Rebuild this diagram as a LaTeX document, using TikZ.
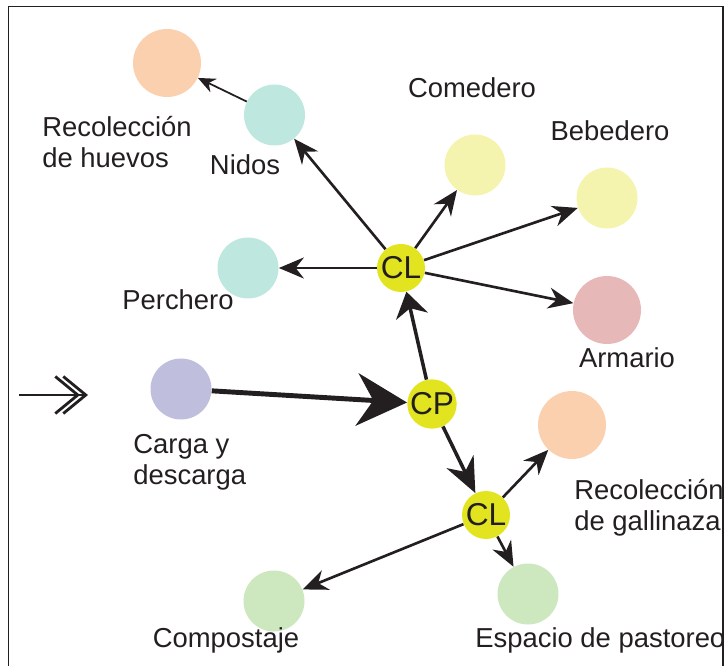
\documentclass[tikz,border=0pt]{standalone}
\usepackage{fontspec}
\setmainfont{Liberation Sans}
\usetikzlibrary{arrows.meta}

\definecolor{peach}{RGB}{251,208,174}
\definecolor{aqua}{RGB}{190,231,224}
\definecolor{lemon}{RGB}{244,244,174}
\definecolor{rose}{RGB}{230,184,184}
\definecolor{lilac}{RGB}{192,190,221}
\definecolor{mint}{RGB}{205,231,190}
\definecolor{hubyellow}{RGB}{226,228,32}
\definecolor{ink}{RGB}{35,31,32}

\begin{document}
\begin{tikzpicture}[
    spot/.style={circle, fill=#1, minimum size=1.22cm, inner sep=0pt},
    bigspot/.style={circle, fill=#1, minimum size=1.36cm, inner sep=0pt},
    hub/.style={circle, fill=hubyellow, minimum size=0.96cm, inner sep=0pt, text=ink, font=\fontsize{18}{18}\selectfont},
    label/.style={font=\fontsize{15.6}{17.6}\selectfont, align=left, text=ink, inner sep=0pt},
    arrow/.style={-{Stealth[length=5mm, width=4.2mm]}, line width=1.5pt, draw=ink},
    thin/.style={-{Stealth[length=3.5mm, width=3mm]}, line width=1pt, draw=ink},
    heavy/.style={-{Stealth[length=7mm, width=6mm]}, line width=2pt, draw=ink},
    main/.style={-{Stealth[length=1cm, width=1.05cm]}, line width=2.8pt, draw=ink},
    chevron/.style={-{Straight Barb[length=4.5mm, width=7.4mm]}, line width=1.6pt, draw=ink},
]
\useasboundingbox (0,0) rectangle (14.5,-13.32);

% Frame
\draw[line width=1.1pt, draw=ink] (0.17,-13.32) -- (0.17,-0.13) -- (14.46,-0.13) -- (14.46,-13.32);

% Upper cluster
\node[bigspot=peach] (huevos) at (3.34,-1.26) {};
\node[spot=aqua] (nidos) at (5.49,-2.30) {};
\node[spot=aqua] (perchero) at (4.96,-5.36) {};
\node[spot=lemon] (comedero) at (9.50,-3.30) {};
\node[spot=lemon] (bebedero) at (12.14,-3.96) {};
\node[bigspot=rose] (armario) at (12.14,-6.20) {};
\node[hub] (clup) at (8.02,-5.36) {CL};

% Middle
\node[spot=lilac] (carga) at (3.62,-7.78) {};
\node[hub] (cp) at (8.64,-8.08) {CP};

% Lower cluster
\node[hub] (cldown) at (9.72,-10.30) {CL};
\node[bigspot=peach] (gallinaza) at (11.44,-8.50) {};
\node[spot=mint] (compost) at (5.48,-12.02) {};
\node[spot=mint] (pastoreo) at (10.56,-11.88) {};

% Labels
\node[label, anchor=west] at (0.84,-2.84) {Recolección\\de huevos};
\node[label] at (4.90,-3.30) {Nidos};
\node[label] at (9.44,-1.76) {Comedero};
\node[label] at (12.20,-2.62) {Bebedero};
\node[label] at (3.56,-6.00) {Perchero};
\node[label] at (12.54,-7.16) {Armario};
\node[label, anchor=west] at (2.66,-9.24) {Carga y\\descarga};
\node[label, anchor=west] at (11.48,-10.16) {Recolección\\de gallinaza};
\node[label] at (4.52,-12.80) {Compostaje};
\node[label, anchor=west] at (9.50,-12.80) {Espacio de pastoreo};

% Entry
\coordinate (in) at (0.38,-7.90);
\coordinate (inend) at (1.76,-7.90);
\draw[chevron] (in) -- (inend);
\draw[chevron, shorten >=1.6mm] (in) -- (inend);

% Connections
\draw[thin] (nidos) -- (huevos);
\draw[arrow] (clup) -- (nidos);
\draw[arrow] (clup) -- (perchero);
\draw[arrow] (clup) -- (comedero);
\draw[arrow] (clup) -- (bebedero);
\draw[arrow] (clup) -- (armario);
\draw[main] (carga) -- (cp);
\draw[heavy, -{Stealth[length=5mm, width=6.5mm]}] (cp) -- (clup);
\draw[heavy] (cp) -- (cldown);
\draw[arrow] (cldown) -- (gallinaza);
\draw[arrow] (cldown) -- (pastoreo);
\draw[arrow] (cldown) -- (compost);

\end{tikzpicture}
\end{document}
